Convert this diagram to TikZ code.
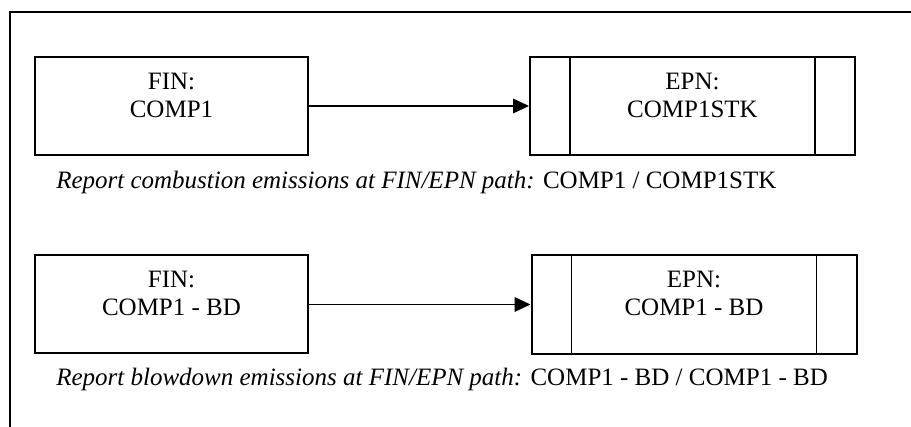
\documentclass[tikz,border=0pt]{standalone}
\usepackage{fontspec}
\setmainfont{Liberation Serif}
\usetikzlibrary{arrows.meta,positioning}

\tikzset{
  finbox/.style={draw, line width=1.5pt, minimum width=204.75pt, minimum height=73.5pt, inner sep=0pt},
  epnbox/.style={draw, line width=1.5pt, minimum width=243.75pt, minimum height=74pt, inner sep=0pt},
  boxtext/.style={align=center, inner sep=0.75pt, font=\fontsize{18.75}{21}\selectfont},
  notetext/.style={anchor=west, inner sep=0.75pt, font=\fontsize{18.75}{21}\selectfont},
  sidebar/.style={line width=1.1pt},
  flowarrow/.style={line width=1.2pt, -{Triangle[length=12pt,width=11pt]}}
}

\begin{document}
\begin{tikzpicture}[x=0.75pt,y=0.75pt,yscale=-1,xscale=1]
\useasboundingbox (0,0) rectangle (911,427);

%Frame: top and left edge
\draw [line width=2pt]  (911,12) -- (10,12) -- (10,427) ;

%Shape: Rectangle [combustion path]
\node [finbox] (fincomp) at (171.5,106) {};
\node [epnbox] (epncomp) at (692.5,106) {};
\draw [sidebar] ([xshift=30.75pt]epncomp.north west) -- ([xshift=30.75pt]epncomp.south west) ;
\draw [sidebar] ([xshift=-30.75pt]epncomp.north east) -- ([xshift=-30.75pt]epncomp.south east) ;
%Straight Lines with arrow
\draw [flowarrow]  (fincomp.east) -- (epncomp.west) ;

% Text Node
\node [boxtext] (fincomplbl) at ([yshift=-8pt]fincomp.center) {FIN:\\COMP1};
% Text Node
\node [boxtext] (epncomplbl) at ([yshift=-8pt]epncomp.center) {EPN:\\COMP1STK};
% Text Node
\node [notetext] (combnote) at (55,182) {\textit{Report combustion emissions at FIN/EPN path:} COMP1 / COMP1STK};

%Shape: Rectangle [blowdown path]
\node [finbox] (finbd) at (171.5,304.5) {};
\node [epnbox] (epnbd) at (694,304.5) {};
\draw [sidebar] ([xshift=30.75pt]epnbd.north west) -- ([xshift=30.75pt]epnbd.south west) ;
\draw [sidebar] ([xshift=-30.75pt]epnbd.north east) -- ([xshift=-30.75pt]epnbd.south east) ;
%Straight Lines with arrow
\draw [flowarrow]  (finbd.east) -- (epnbd.west) ;

% Text Node
\node [boxtext] (finbdlbl) at ([yshift=-8pt]finbd.center) {FIN:\\COMP1 - BD};
% Text Node
\node [boxtext] (epnbdlbl) at ([yshift=-8pt]epnbd.center) {EPN:\\COMP1 - BD};
% Text Node
\node [notetext] (bdnote) at (55,379) {\textit{Report blowdown emissions at FIN/EPN path:} COMP1 - BD / COMP1 - BD};

\end{tikzpicture}
\end{document}
